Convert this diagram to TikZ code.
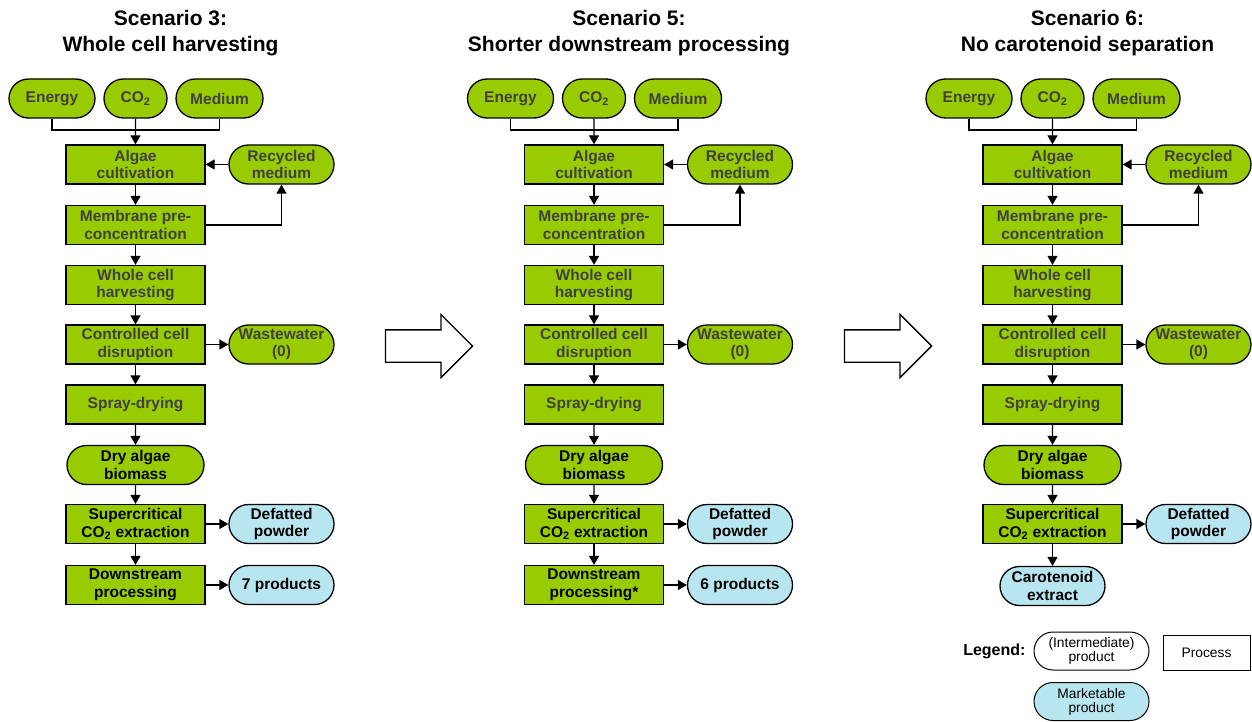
\documentclass[tikz,border=0pt]{standalone}
\usepackage{fontspec}
\setmainfont{Liberation Sans}
\usepackage{tikz}
\usetikzlibrary{shapes, arrows.meta, positioning}

\definecolor{algaegreen}{HTML}{99CC00}
\definecolor{prodblue}{HTML}{B7E6F0}
\definecolor{txtgray}{HTML}{404040}

\tikzset{
  proc/.style={draw=black, line width=1.3pt, fill=algaegreen, minimum width=139pt,
    minimum height=39pt, inner sep=1pt, align=center,
    font=\bfseries\fontsize{15.5}{17.5}\selectfont},
  prod/.style={proc, rounded rectangle, minimum width=107pt},
  market/.style={prod, fill=prodblue},
  dim/.style={text=txtgray},
  title/.style={align=center, font=\bfseries\fontsize{21}{26}\selectfont},
  wire/.style={line width=1.3pt},
  flow/.style={line width=1.3pt, -{Triangle[length=9pt,width=10pt]}},
  bigarrow/.style={draw=black, line width=1.3pt, single arrow, minimum height=87pt,
    inner xsep=0pt, inner ysep=15.5pt, single arrow head extend=15.5pt,
    single arrow head indent=0pt},
  legitem/.style={draw=black, line width=1pt, align=center, inner sep=1pt,
    font=\fontsize{13.8}{14}\selectfont}
}

\begin{document}
\begin{tikzpicture}[x=1pt, y=-1pt]
  \useasboundingbox (0,0) rectangle (1252,722);

  % common part of the three scenarios
  \foreach \c/\dx/\num/\ttl in {a/0/3/Whole cell harvesting,
      b/458.5/5/Shorter downstream processing, c/917/6/No carotenoid separation}{
    \begin{scope}[shift={(\dx,0)}]
      \node[title] (\c-title) at (170.5,33) {Scenario \num:\\\ttl};
      \node[prod, dim, minimum width=88pt] (\c-energy) at (52,98.5) {Energy};
      \node[prod, dim, minimum width=65pt] (\c-co2) at (135.5,98.5) {CO\textsubscript{2}};
      \node[prod, dim, minimum width=89pt] (\c-medium) at (219.5,98.5) {Medium};
      \coordinate (\c-jn) at (135.5,130);
      \node[proc, dim] (\c-algae) at (135.5,164.5) {Algae\\cultivation};
      \node[prod, dim] (\c-recyc) at (281.5,164.5) {Recycled\\medium};
      \node[proc, dim] (\c-membrane) at (135.5,225) {Membrane pre-\\concentration};
      \node[proc, dim] (\c-whole) at (135.5,285) {Whole cell\\harvesting};
      \node[proc, dim] (\c-disrupt) at (135.5,344.5) {Controlled cell\\disruption};
      \node[prod, dim] (\c-waste) at (281.5,344.5) {Wastewater\\(0)};
      \node[proc, dim] (\c-spray) at (135.5,404.5) {Spray-drying};
      \node[prod, minimum width=139pt] (\c-dry) at (135.5,465) {Dry algae\\biomass};
      \node[proc] (\c-scco2) at (135.5,524) {Supercritical\\CO\textsubscript{2} extraction};
      \node[market] (\c-defat) at (281.5,524) {Defatted\\powder};

      \draw[wire] (\c-energy.south) |- (\c-jn) -| (\c-medium.south);
      \draw[flow] (\c-co2) -- (\c-algae);
      \draw[flow] (\c-recyc) -- (\c-algae);
      \draw[flow] (\c-algae) -- (\c-membrane);
      \draw[flow] (\c-membrane.east) -| (\c-recyc.south);
      \draw[flow] (\c-membrane) -- (\c-whole);
      \draw[flow] (\c-whole) -- (\c-disrupt);
      \draw[flow] (\c-disrupt) -- (\c-waste);
      \draw[flow] (\c-disrupt) -- (\c-spray);
      \draw[flow] (\c-spray) -- (\c-dry);
      \draw[flow] (\c-dry) -- (\c-scco2);
      \draw[flow] (\c-scco2) -- (\c-defat);
    \end{scope}
  }

  % scenario 3
  \node[proc] (a-down) at (135.5,585) {Downstream\\processing};
  \node[market] (a-out) at (281.5,585) {7 products};
  \draw[flow] (a-scco2) -- (a-down);
  \draw[flow] (a-down) -- (a-out);

  % scenario 5
  \node[proc] (b-down) at (594,585) {Downstream\\processing*};
  \node[market] (b-out) at (740,585) {6 products};
  \draw[flow] (b-scco2) -- (b-down);
  \draw[flow] (b-down) -- (b-out);

  % scenario 6
  \node[market] (c-carot) at (1052.5,586) {Carotenoid\\extract};
  \draw[flow] (c-scco2) -- (c-carot);

  % hollow arrows between scenarios
  \node[bigarrow] (step1) at (421,346) {};
  \node[bigarrow] (step2) at (880,346) {};

  % legend
  \node[anchor=east, font=\bfseries\fontsize{16}{17}\selectfont] (legend) at (1029,651) {Legend:};
  \node[legitem, rounded rectangle, minimum width=117pt, minimum height=38pt] (leg-inter)
    at (1091.5,651) {(Intermediate)\\product};
  \node[legitem, minimum width=87pt, minimum height=35pt] (leg-proc)
    at (1206.5,652.5) {Process};
  \node[legitem, rounded rectangle, fill=prodblue, minimum width=117pt, minimum height=38pt]
    (leg-market) at (1091.5,701.5) {Marketable\\product};
\end{tikzpicture}
\end{document}
